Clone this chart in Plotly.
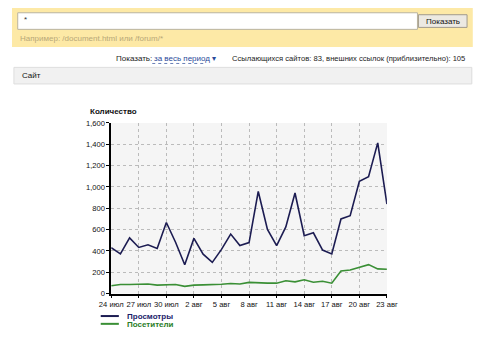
import plotly.graph_objects as go

W, H = 500, 362

dates = ["2011-07-%02d" % d for d in range(24, 32)] + ["2011-08-%02d" % d for d in range(1, 24)]
views = [430, 372, 522, 433, 458, 424, 667, 482, 271, 518, 370, 293, 415, 558, 451, 478,
         958, 602, 450, 625, 943, 543, 570, 408, 372, 700, 730, 1053, 1097, 1413, 840]
visitors = [73, 85, 85, 85, 90, 80, 85, 85, 68, 80, 82, 82, 88, 95, 90, 105,
            100, 98, 98, 120, 110, 130, 107, 116, 98, 213, 222, 244, 272, 232, 228]
tick_dates = ["2011-07-24", "2011-07-27", "2011-07-30", "2011-08-02", "2011-08-05", "2011-08-08",
              "2011-08-11", "2011-08-14", "2011-08-17", "2011-08-20", "2011-08-23"]
tick_labels = ["24 июл", "27 июл", "30 июл", "2 авг", "5 авг", "8 авг",
               "11 авг", "14 авг", "17 авг", "20 авг", "23 авг"]
y_ticks = [0, 200, 400, 600, 800, 1000, 1200, 1400, 1600]

NAVY = "#1c1c52"
GREEN = "#3a8f35"
FONT = "Liberation Sans, Arial, sans-serif"


def px(x):
    return x / W


def py(y):
    return 1 - y / H


fig = go.Figure()
fig.add_trace(go.Scatter(x=dates, y=visitors, mode="lines", name="Посетители",
                         line=dict(color=GREEN, width=1.6), hoverinfo="skip"))
fig.add_trace(go.Scatter(x=dates, y=views, mode="lines", name="Просмотры",
                         line=dict(color=NAVY, width=1.6), hoverinfo="skip"))

shapes = []
annotations = []


def rect(x0, y0, x1, y1, fill, line=None, lw=1):
    shapes.append(dict(type="rect", xref="paper", yref="paper",
                       x0=px(x0), x1=px(x1), y0=py(y1), y1=py(y0),
                       fillcolor=fill, line=dict(color=line or fill, width=lw if line else 0),
                       layer="below"))


def text(x, y, s, size=8, color="#222", anchor="left", bold=False):
    annotations.append(dict(xref="paper", yref="paper", x=px(x), y=py(y), text=("<b>%s</b>" % s) if bold else s,
                            showarrow=False, xanchor=anchor, yanchor="middle",
                            font=dict(family=FONT, size=size, color=color)))


# top search panel
rect(0, 4, 483, 44, "#fde9a6")
rect(6, 9, 425, 26, "#ffffff", "#b9b3a0")
text(10, 16, "*", size=8, color="#333")
rect(426, 11, 477, 24, "#ece9e2", "#a09a8c")
text(451.5, 17.5, "Показать", size=8, color="#111", anchor="center")
text(6, 35, "Например: /document.html или /forum/*", size=8, color="#b8a878")

# info line
text(107, 56, "Показать:", size=8, color="#222")
text(147, 56, "за весь период ▾", size=8, color="#2a4a9a")
shapes.append(dict(type="line", xref="paper", yref="paper", x0=px(147), x1=px(203), y0=py(61), y1=py(61),
                   line=dict(color="#6a80b8", width=1, dash="dot")))
text(477, 56, "Ссылающихся сайтов: 83, внешних ссылок (приблизительно): 105", size=7.6, color="#222", anchor="right")

# header bar
rect(2, 65, 482, 82, "#f1f1f1", "#dddddd")
text(8, 73.5, "Сайт", size=8, color="#111")

# chart title
text(80, 110.5, "Количество", size=8, color="#111", bold=True)

# legend
shapes.append(dict(type="line", xref="paper", yref="paper", x0=px(93), x1=px(112), y0=py(320), y1=py(320),
                   line=dict(color=NAVY, width=2)))
shapes.append(dict(type="line", xref="paper", yref="paper", x0=px(93), x1=px(112), y0=py(328), y1=py(328),
                   line=dict(color=GREEN, width=2)))
text(118, 320, "Просмотры", size=8, color="#1c1c6a", bold=True)
text(118, 328.5, "Посетители", size=8, color="#2a7d26", bold=True)

fig.update_layout(
    width=W, height=H, autosize=False,
    margin=dict(l=0, r=0, t=0, b=0),
    paper_bgcolor="white",
    plot_bgcolor="#f5f5f5",
    showlegend=False,
    hovermode=False,
    shapes=shapes,
    annotations=annotations,
    xaxis=dict(domain=[px(104), px(393)], range=[dates[0], dates[-1]], type="date",
               tickvals=tick_dates, ticktext=tick_labels, tickangle=0,
               showgrid=True, gridcolor="#bbbbbb", griddash="dot", gridwidth=1,
               showline=True, linecolor="#000", linewidth=1.5,
               ticks="outside", ticklen=3, tickcolor="#000",
               tickfont=dict(family=FONT, size=7.6, color="#111"), zeroline=False, fixedrange=True),
    yaxis=dict(domain=[py(297), py(122)], range=[0, 1600],
               tickvals=y_ticks, tickformat=",d",
               showgrid=True, gridcolor="#bbbbbb", griddash="dot", gridwidth=1,
               showline=True, linecolor="#000", linewidth=1.5,
               ticks="outside", ticklen=3, tickcolor="#000",
               tickfont=dict(family=FONT, size=7.6, color="#111"), zeroline=False, fixedrange=True),
)

fig.write_html("out.html", config={"displayModeBar": False},
               post_script="document.body.style.margin='0';document.body.style.overflow='hidden';")
